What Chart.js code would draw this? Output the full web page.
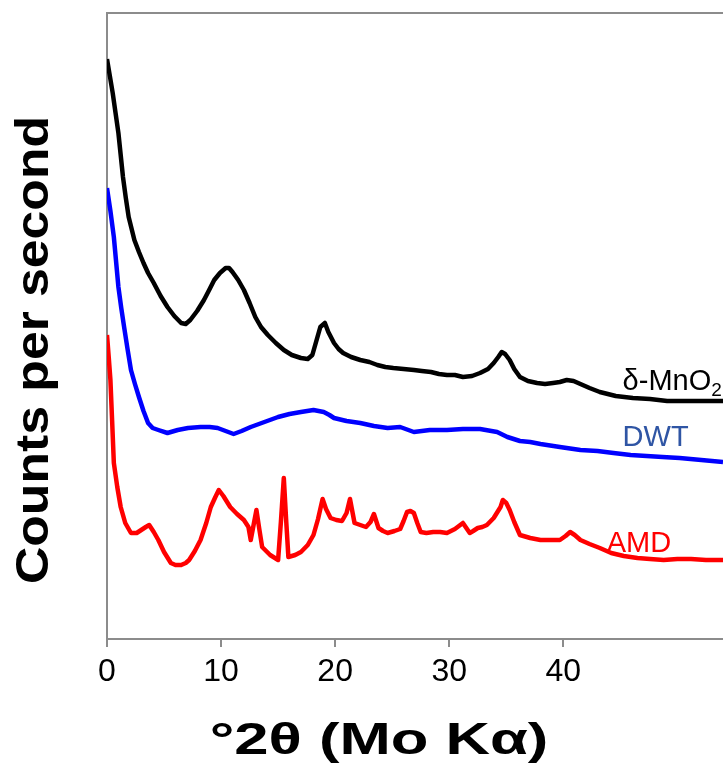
<!DOCTYPE html>
<html>
<head>
<meta charset="utf-8">
<script src="https://cdn.jsdelivr.net/npm/chart.js@4.4.1/dist/chart.umd.min.js"></script>
<style>
  html, body { margin: 0; padding: 0; background: #fff; }
  #wrap { width: 723px; height: 778px; }
</style>
</head>
<body>
<div id="wrap"><canvas id="xrd" width="723" height="778"></canvas></div>
<script>
// 2θ positions and counts (arbitrary units)
const mnoX = [0, 0.25, 0.5, 0.75, 1.0, 1.2, 1.4, 1.65, 1.9, 2.4, 2.8, 3.2, 3.6, 4.1, 4.7, 5.3, 5.9, 6.5, 6.9, 7.3, 7.9, 8.5, 9.0, 9.4, 9.9, 10.4, 10.7, 11.0, 11.5, 12.0, 12.5, 13.0, 13.5, 14.1, 14.8, 15.5, 16.2, 17.0, 17.6, 18.0, 18.3, 18.7, 19.1, 19.4, 19.9, 20.3, 20.7, 21.4, 22.2, 23.0, 23.7, 24.4, 25.1, 26.0, 26.9, 27.6, 28.4, 29.1, 29.8, 30.5, 31.2, 32.0, 32.7, 33.4, 33.9, 34.3, 34.6, 34.9, 35.3, 35.7, 36.2, 36.9, 37.7, 38.4, 39.1, 39.7, 40.3, 40.9, 41.5, 42.3, 43.2, 44.6, 46.1, 47.6, 49.1, 51.5, 54];
const mnoY = [580, 563, 546, 526, 506, 484, 462, 441, 422, 399, 387, 376, 366, 356, 343, 332, 323, 316, 315, 319, 328, 339, 350, 359, 366, 371, 371, 367, 359, 349, 336, 322, 312, 304, 296, 289, 284, 281, 280, 284, 296, 312, 316, 307, 296, 290, 286, 282, 279, 277, 274, 272, 271, 270, 269, 268, 267, 265, 264, 264, 262, 263, 266, 270, 276, 282, 287, 285, 279, 270, 262, 258, 256, 255, 256, 257, 259, 258, 255, 251, 247, 243, 241, 240, 238, 238, 238];

const dwtX = [0, 0.3, 0.6, 0.8, 1.0, 1.25, 1.5, 1.8, 2.1, 2.45, 2.8, 3.2, 3.6, 4.0, 4.5, 5.3, 6.2, 7.1, 8.2, 9.0, 9.7, 10.4, 11.1, 11.8, 12.6, 13.8, 15.0, 16.0, 17.0, 18.1, 19.0, 19.5, 19.9, 21.0, 22.2, 23.4, 24.6, 25.7, 26.9, 28.3, 29.8, 31.2, 32.7, 34.2, 35.1, 36.2, 37.1, 38.0, 39.7, 41.5, 43.0, 44.4, 45.9, 47.3, 48.7, 50.2, 52.1, 54];
const dwtY = [451, 428, 402, 377, 352, 331, 312, 290, 269, 255, 242, 228, 216, 211, 209, 206, 209, 211, 212, 212, 211, 208, 205, 208, 212, 217, 222, 225, 227, 229, 227, 224, 221, 218, 216, 213, 211, 212, 207, 209, 209, 210, 210, 207, 202, 198, 197, 195, 192, 189, 188, 186, 184, 183, 182, 181, 179, 177];

const amdX = [0, 0.15, 0.3, 0.45, 0.6, 0.9, 1.2, 1.6, 2.1, 2.6, 3.0, 3.4, 3.7, 4.1, 4.5, 5.0, 5.6, 6.0, 6.5, 6.9, 7.2, 7.7, 8.2, 8.7, 9.1, 9.5, 9.8, 10.2, 10.8, 11.4, 12.0, 12.4, 12.6, 12.85, 13.1, 13.35, 13.6, 14.3, 15.0, 15.25, 15.5, 15.7, 15.9, 16.5, 17.0, 17.6, 18.1, 18.5, 18.9, 19.2, 19.6, 20.1, 20.6, 21.0, 21.3, 21.5, 21.7, 22.2, 22.7, 23.1, 23.4, 23.6, 23.8, 24.2, 24.6, 25.2, 25.7, 26.0, 26.3, 26.6, 26.9, 27.2, 27.5, 28.0, 28.6, 29.2, 29.8, 30.5, 31.2, 31.5, 31.8, 32.1, 32.5, 32.9, 33.3, 33.9, 34.5, 34.7, 35.0, 35.3, 35.7, 36.2, 37.1, 38.0, 38.8, 39.7, 40.2, 40.6, 41.0, 41.5, 42.3, 43.2, 44.2, 45.3, 46.5, 47.6, 48.8, 50.0, 51.2, 52.5, 54];
const amdY = [304, 282, 259, 218, 176, 152, 132, 116, 106, 106, 109, 112, 114, 107, 99, 87, 76, 74, 74, 76, 79, 88, 99, 116, 132, 142, 149, 143, 132, 125, 119, 112, 99, 114, 129, 110, 92, 84, 79, 118, 161, 120, 82, 84, 87, 94, 104, 120, 140, 130, 121, 119, 118, 126, 140, 128, 116, 114, 112, 117, 125, 118, 111, 108, 106, 108, 110, 118, 127, 128, 126, 116, 107, 106, 107, 107, 106, 110, 116, 111, 106, 108, 111, 112, 114, 121, 132, 139, 136, 129, 117, 104, 101, 99, 99, 99, 103, 107, 104, 99, 95, 91, 86, 83, 81, 80, 79, 80, 80, 79, 79];

const xTicks = [0, 10, 20, 30, 40];
const xMin = 0, xMax = 54;
const yMin = 0, yMax = 626;

const pts = (xs, ys) => xs.map((x, i) => ({ x: x, y: ys[i] }));

const seriesLabels = [
  { text: 'δ-MnO', sub: '2', x: 45.2, y: 249, color: '#000000' },
  { text: 'DWT', sub: '', x: 45.2, y: 193, color: '#2f55a4' },
  { text: 'AMD', sub: '', x: 43.8, y: 87, color: '#ff0000' }
];

const axisGray = '#8c8c8c';
const FONT = '"Liberation Sans", Arial, sans-serif';

// titles, curve labels and the top frame line
const decorations = {
  id: 'decorations',
  afterDraw(c) {
    const ctx = c.ctx, a = c.chartArea;
    const sx = c.scales.x, sy = c.scales.y;
    ctx.save();
    ctx.strokeStyle = axisGray;
    ctx.lineWidth = 2;
    ctx.beginPath();
    ctx.moveTo(a.left, a.top);
    ctx.lineTo(a.right, a.top);
    ctx.stroke();

    ctx.textBaseline = 'alphabetic';
    ctx.textAlign = 'left';
    seriesLabels.forEach(l => {
      const px = sx.getPixelForValue(l.x), py = sy.getPixelForValue(l.y);
      ctx.fillStyle = l.color;
      ctx.font = '29px ' + FONT;
      ctx.fillText(l.text, px, py);
      if (l.sub) {
        const w = ctx.measureText(l.text).width;
        ctx.font = '19px ' + FONT;
        ctx.fillText(l.sub, px + w, py + 6);
      }
    });

    ctx.fillStyle = '#000';
    ctx.textAlign = 'center';
    ctx.textBaseline = 'middle';

    ctx.save();
    ctx.translate(379, 742);
    ctx.scale(1.4, 1);
    ctx.font = 'bold 44px ' + FONT;
    ctx.fillText('°2θ (Mo Kα)', 0, 0);
    ctx.restore();

    ctx.translate(35, 350);
    ctx.rotate(-Math.PI / 2);
    ctx.scale(1.1, 1);
    ctx.font = 'bold 47px ' + FONT;
    ctx.fillText('Counts per second', 0, 0);
    ctx.restore();
  }
};

const lineStyle = (color) => ({
  borderColor: color,
  borderWidth: 4.5,
  pointRadius: 0,
  tension: 0,
  borderJoinStyle: 'round',
  fill: false
});

new Chart(document.getElementById('xrd'), {
  type: 'line',
  data: {
    datasets: [
      Object.assign({ label: 'δ-MnO2', data: pts(mnoX, mnoY) }, lineStyle('#000000')),
      Object.assign({ label: 'DWT', data: pts(dwtX, dwtY) }, lineStyle('#0000ff')),
      Object.assign({ label: 'AMD', data: pts(amdX, amdY) }, lineStyle('#ff0000'))
    ]
  },
  options: {
    responsive: false,
    animation: false,
    layout: { padding: { top: 13, right: 0, left: 0, bottom: 0 } },
    plugins: { legend: { display: false }, tooltip: { enabled: false } },
    scales: {
      x: {
        type: 'linear',
        min: xMin,
        max: xMax,
        afterBuildTicks: s => { s.ticks = xTicks.map(v => ({ value: v })); },
        afterFit: s => { s.height = 139; },
        grid: { drawOnChartArea: false, drawTicks: true, tickLength: 8, color: axisGray, lineWidth: 2 },
        border: { color: axisGray, width: 2 },
        ticks: { color: '#000', font: { size: 32, family: FONT }, padding: 6, maxRotation: 0 }
      },
      y: {
        min: yMin,
        max: yMax,
        afterFit: s => { s.width = 107; },
        grid: { display: false },
        border: { color: axisGray, width: 2 },
        ticks: { display: false }
      }
    }
  },
  plugins: [decorations]
});
</script>
</body>
</html>
